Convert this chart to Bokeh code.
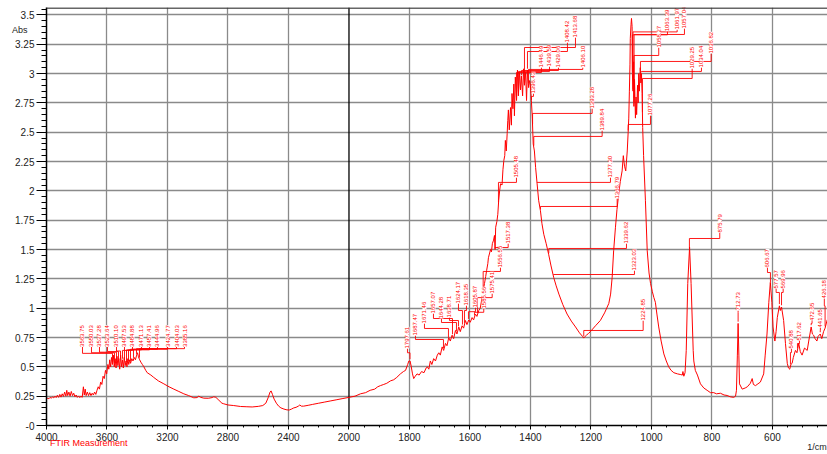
import numpy as np
from bokeh.plotting import figure
from bokeh.models import FixedTicker, Span, LinearAxis
from bokeh.core.properties import value
from bokeh.embed import file_html
from bokeh.resources import INLINE

# ---------------- data ----------------
spec_w = [4000, 3992, 3984, 3976, 3968, 3960, 3952, 3944, 3936, 3928, 3920, 3912, 3904, 3896, 3888, 3880,
          3872, 3866, 3860, 3852, 3844, 3836, 3828, 3820, 3812, 3804, 3796, 3788, 3780, 3772, 3764, 3756,
          3750, 3744, 3738, 3730, 3722, 3714, 3706, 3698, 3690, 3682, 3674, 3666, 3658, 3650, 3642, 3634,
          3626, 3618, 3610, 3602, 3594, 3588, 3582, 3576, 3570, 3564, 3558, 3552, 3546, 3540, 3534, 3528,
          3522, 3516, 3510, 3504, 3498, 3492, 3486, 3480, 3474, 3468, 3462, 3456, 3450, 3444, 3436, 3428,
          3420, 3412, 3404, 3398, 3392, 3384, 3376, 3366, 3356, 3344, 3334, 3310, 3291, 3260, 3224, 3190,
          3158, 3125, 3092, 3060, 3026, 3005, 2993, 2980, 2960, 2930, 2905, 2894, 2880, 2860, 2840, 2828,
          2800, 2762, 2717, 2680, 2640, 2600, 2570, 2550, 2535, 2522, 2515, 2506, 2495, 2480, 2465, 2450,
          2430, 2410, 2395, 2380, 2365, 2350, 2335, 2325, 2315, 2300, 2270, 2240, 2200, 2160, 2120, 2080,
          2040, 2000,
          1980, 1962, 1945, 1930, 1915, 1905, 1896, 1885, 1875, 1863, 1852, 1842, 1830, 1820, 1813, 1806,
          1802, 1798, 1794, 1790, 1786, 1781, 1775, 1768, 1760, 1752, 1745, 1741, 1736, 1731, 1726, 1720,
          1714, 1708, 1703, 1698, 1692, 1687, 1681, 1676, 1670, 1665, 1659, 1654, 1648, 1643, 1637, 1632,
          1626, 1621, 1615, 1610, 1604, 1599, 1593, 1588, 1582, 1577, 1571, 1566, 1560, 1556, 1552, 1548,
          1545, 1541, 1539, 1535, 1532, 1529, 1526, 1522, 1519, 1517, 1515, 1511, 1508, 1505, 1502, 1499,
          1494, 1491, 1488, 1485, 1483, 1480, 1477, 1475, 1473, 1470, 1466, 1463, 1461, 1458, 1455, 1453,
          1450, 1446, 1443, 1440, 1436, 1433, 1430, 1426, 1423, 1420, 1416, 1413, 1410, 1406, 1403, 1400,
          1397, 1394, 1391, 1387, 1383, 1378, 1373, 1367, 1362, 1356, 1348, 1340, 1332, 1323, 1315, 1306,
          1293, 1279, 1265, 1251, 1238, 1228, 1224, 1219, 1215, 1208, 1202, 1185, 1169, 1155, 1141, 1135,
          1130, 1125, 1119, 1114, 1108, 1103, 1097, 1093, 1089, 1085, 1080, 1077, 1075, 1073, 1071, 1070,
          1067.5, 1066, 1064, 1063, 1061, 1059, 1058, 1056, 1053, 1051, 1049, 1046, 1044, 1042, 1040, 1037,
          1035, 1033, 1031, 1029, 1026, 1020, 1014, 1008, 1003, 997, 992, 987, 982, 976, 968, 959,
          951, 943, 935, 926, 914, 905, 898, 896, 893, 889, 885, 880, 874, 869, 862, 860,
          855, 848, 838, 827, 816, 805, 794, 785, 772, 760, 750, 740, 728, 722, 719, 716,
          713.5, 711, 709, 700, 690, 683, 673, 667, 663, 656, 648, 640, 629, 624, 618, 612,
          607, 602, 598, 592, 588, 584, 577, 574, 570, 563, 557, 551, 547, 543, 539, 535,
          531, 524, 519, 513, 508, 502, 494, 485, 480, 472, 468, 464, 459, 453, 449, 442,
          437, 431, 426, 419, 410]
spec_a = [.225, .232, .228, .24, .232, .245, .235, .25, .238, .258, .24, .265, .242, .27, .248, .285,
          .25, .30, .255, .285, .25, .29, .255, .275, .245, .26, .24, .252, .238, .25, .24, .33,
          .26, .31, .255, .285, .255, .28, .255, .275, .26, .285, .265, .30, .33, .31, .37, .35,
          .42, .40, .47, .44, .52, .48, .56, .50, .58, .52, .60, .50, .57, .49, .59, .51,
          .57, .48, .60, .50, .56, .49, .58, .51, .55, .50, .57, .52, .56, .53, .57, .55,
          .58, .56, .60, .62, .585, .56, .54, .52, .50, .47, .45, .43, .41, .38, .355, .33,
          .31, .29, .27, .255, .236, .238, .25, .24, .233, .232, .238, .245, .24, .215, .19, .185,
          .175, .17, .162, .16, .158, .163, .17, .19, .235, .285, .295, .265, .225, .19, .165, .15,
          .14, .133, .132, .14, .15, .155, .165, .175, .165, .165, .172, .18, .19, .20, .21, .22,
          .23, .24,
          .25, .27, .28, .30, .31, .33, .34, .35, .36, .38, .39, .41, .44, .46, .47, .52,
          .55, .55, .50, .44, .40, .42, .44, .43, .46, .45, .49, .50, .48, .55, .52, .57,
          .55, .60, .62, .60, .67, .64, .70, .68, .75, .72, .77, .74, .81, .78, .84, .80,
          .85, .83, .895, .86, .90, .88, .92, .90, .95, .93, .98, 1.0, 1.09, 1.15, 1.21, 1.27,
          1.32, 1.38, 1.43, 1.47, 1.50, 1.48, 1.55, 1.58, 1.62, 1.50, 1.69, 1.74, 1.80, 1.92, 2.0, 2.06,
          2.05, 2.18, 2.26, 2.30, 2.43, 2.34, 2.49, 2.60, 2.69, 2.52, 2.71, 2.56, 2.83, 2.70, 2.91, 2.64,
          2.97, 2.77, 3.03, 2.81, 3.01, 2.86, 2.98, 2.81, 3.04, 2.90, 3.01, 2.77, 3.03, 2.88, 2.94, 2.90,
          2.77, 2.63, 2.40, 2.34, 2.20, 2.06, 1.92, 1.83, 1.72, 1.63, 1.55, 1.46, 1.36, 1.26, 1.19, 1.12,
          1.03, .95, .89, .84, .79, .76, .745, .76, .77, .785, .80, .85, .895, .96, 1.04, 1.12,
          1.26, 1.49, 1.69, 1.84, 1.98, 2.08, 2.17, 2.30, 2.21, 2.17, 2.34, 2.50, 2.62, 2.85, 3.08, 3.30,
          3.42, 3.47, 3.40, 3.00, 2.85, 3.10, 2.72, 2.95, 2.62, 2.80, 2.65, 2.90, 2.75, 3.00, 2.85, 3.05,
          2.92, 3.00, 2.83, 2.54, 2.30, 1.92, 1.49, 1.30, 1.21, 1.14, 1.09, 1.05, .95, .84, .72, .61,
          .55, .50, .47, .45, .44, .435, .43, .46, .42, .45, .64, 1.21, 1.52, 1.21, .64, .55,
          .47, .43, .355, .32, .30, .28, .28, .27, .275, .26, .256, .245, .24, .25, .30, .60,
          .87, .60, .355, .31, .32, .33, .36, .40, .35, .34, .355, .37, .44, .60, .78, 1.05,
          1.22, 1.05, .84, .72, .80, .92, 1.02, .98, 1.01, .895, .70, .53, .49, .48, .52, .53,
          .58, .64, .62, .70, .63, .60, .66, .64, .72, .84, .78, .77, .74, .72, .76, .78,
          .74, .80, .83, .90, .85]

x_tick_w = [4000, 3600, 3200, 2800, 2400, 2000, 1800, 1600, 1400, 1200, 1000, 800, 600]
y_ticks = [0, 0.25, 0.5, 0.75, 1, 1.25, 1.5, 1.75, 2, 2.25, 2.5, 2.75, 3, 3.25, 3.5]

# peak labels: text and wavenumber of the marked peak
peak_text = ["3563.75", "3550.03", "3537.28", "3523.64", "3510.10", "3497.53", "3484.88", "3471.13",
             "3457.41", "3444.96", "3424.77", "3404.03", "3385.16",
             "1797.61", "1687.47", "1671.46", "1657.07", "1644.28", "1638.71", "1624.17", "1618.35",
             "1605.87", "1585.56", "1575.41", "1556.55", "1517.38",
             "1413.68", "1408.42", "1446.49", "1439.59", "1429.06", "1406.10", "1396.43", "1505.48",
             "1393.28", "1389.84", "1377.30", "1366.79", "1339.62", "1323.03", "1224.85",
             "1063.39", "1061.97", "1057.04", "1058.27", "1077.26", "1036.82", "1034.04", "1029.25",
             "875.79", "712.73", "606.67", "577.57", "569.96", "540.88", "517.62", "472.65", "441.65",
             "426.18"]
peak_w = [3563.6, 3550.4, 3537.2, 3523.9, 3510.7, 3497.5, 3484.3, 3471.0, 3457.8, 3444.6, 3424.8, 3404.9, 3385.1,
          1798.3, 1687.6, 1671.1, 1657.8, 1644.6, 1638.0, 1624.8, 1618.2, 1605.0, 1585.1, 1575.2, 1556.4, 1517.0,
          1419.8, 1409.9, 1446.3, 1439.7, 1429.8, 1406.6, 1396.7, 1505.8,
          1393.0, 1389.0, 1377.8, 1366.9, 1339.5, 1323.9, 1223.8,
          1063.0, 1061.0, 1057.5, 1057.8, 1077.0, 1036.4, 1033.1, 1029.8,
          874.5, 713.5, 606.6, 577.0, 570.0, 540.5, 517.3, 472.0, 442.0, 426.0]

# label layout (where each label sits, in chart units)
knee_a = [0.615, 0.62, 0.625, 0.63, 0.635, 0.64, 0.64, 0.645, 0.645, 0.65, 0.65, 0.655, 0.655,
          0.62, 0.733, 0.827, 0.912, 0.878, 0.895, 0.98, 0.98, 0.97, 0.965, 1.09, 1.313, 1.517,
          3.222, 3.188, 3.009, 3.018, 3.026, 3.035, 2.805, 2.072,
          2.66, 2.464, 2.072, 1.867, 1.509, 1.287, 0.81,
          3.33, 3.355, 3.333, 3.154, 2.566, 3.103, 3.018, 2.958,
          1.594, 0.963, 1.304, 1.134, 1.134, 0.622, 0.699, 0.87, 0.81, 1.02]
label_w = [3762.0, 3702.5, 3649.6, 3596.7, 3537.2, 3484.3, 3431.4, 3371.9, 3319.0, 3266.1, 3199.9, 3140.4, 3087.5,
           1806.6, 1780.2, 1750.4, 1720.7, 1694.2, 1667.8, 1638.0, 1611.6, 1581.8, 1554.4, 1526.6, 1499.2, 1473.7,
           1251.2, 1277.7, 1363.6, 1337.1, 1307.4, 1227.1, 1390.1, 1446.3,
           1196.0, 1163.0, 1135.5, 1113.4, 1082.6, 1056.2, 1027.4,
           947.1, 915.0, 890.9, 975.9, 1003.3, 802.6, 834.7, 865.4,
           774.2, 713.5, 616.5, 587.8, 564.6, 537.2, 510.7, 469.0, 441.6, 428.5]
label_a = [0.67] * 13 + [
           0.656, 0.767, 0.87, 0.955, 0.912, 0.921, 1.04, 1.023, 1.006, 0.997, 1.125, 1.347, 1.552,
           3.308, 3.265, 3.052, 3.06, 3.052, 3.052, 2.83, 2.114,
           2.702, 2.515, 2.114, 1.935, 1.552, 1.321, 0.895,
           3.36, 3.375, 3.385, 3.222, 2.643, 3.171, 3.052, 3.043,
           1.645, 0.98, 1.347, 1.168, 1.168, 0.656, 0.725, 0.89, 0.835, 1.083]

caption_y_name = "Abs"
caption_x_name = "1/cm"
caption_source = "FTIR Measurement"


def to_u(w):
    """Wavenumber -> display coordinate (scale doubles below 2000 1/cm)."""
    w = np.asarray(w, dtype=float)
    return np.where(w >= 2000, (4000 - w) / 2.0, 1000 + (2000 - w))


RED = "#ff0000"
FONT = "Liberation Sans"

p = figure(width=827, height=454, output_backend="svg", toolbar_location=None,
           x_range=(0, 2582), y_range=(0, 3.563),
           min_border_left=46, min_border_right=0, min_border_top=7, min_border_bottom=29)
p.outline_line_color = None
p.background_fill_color = "white"
p.border_fill_color = "white"

# axes
tick_u = [int(v) for v in to_u(x_tick_w)]
p.xaxis.ticker = FixedTicker(ticks=tick_u, minor_ticks=list(range(0, 2600, 50)))
p.xaxis.major_label_overrides = {u: str(w) for u, w in zip(tick_u, x_tick_w)}
p.yaxis.ticker = FixedTicker(ticks=y_ticks, minor_ticks=[round(i * 0.05, 2) for i in range(0, 72)])
p.yaxis.major_label_overrides = {0: "-0"}
for ax in (p.xaxis[0], p.yaxis[0]):
    ax.axis_line_color = "black"
    ax.axis_line_width = 1.5
    ax.major_tick_line_color = "black"
    ax.minor_tick_line_color = "black"
    ax.major_tick_in = 0
    ax.minor_tick_in = 0
    ax.major_label_text_font = FONT
    ax.major_label_text_font_size = "10px"
    ax.major_label_text_color = "#222222"
p.yaxis.major_tick_out = 10
p.yaxis.minor_tick_out = 5
p.yaxis.major_label_standoff = 2
p.xaxis.major_tick_out = 4
p.xaxis.minor_tick_out = 2
p.xaxis.major_label_standoff = 3


def caption_axis(ticks, labels, color, standoff):
    return LinearAxis(ticker=FixedTicker(ticks=ticks), major_label_overrides=labels,
                      axis_line_color=None, major_tick_line_color=None, minor_tick_line_color=None,
                      major_tick_out=0, major_tick_in=0, minor_tick_out=0, minor_tick_in=0,
                      major_label_standoff=standoff, major_label_text_font=FONT,
                      major_label_text_font_size="9px", major_label_text_color=color)


# "Abs" caption at the top of the absorbance axis (outer left axis, pulled inward)
p.add_layout(caption_axis([3.375], {3.375: caption_y_name}, "#222222", -15), "left")
# "FTIR Measurement" and "1/cm" captions under the wavenumber axis
p.add_layout(caption_axis([140], {140: caption_source}, RED, -6), "below")
p.add_layout(caption_axis([2552], {2552: caption_x_name}, "#222222", -9), "below")

# grid
p.xgrid.ticker = FixedTicker(ticks=[u for u in tick_u if u not in (0, 1000)])
p.ygrid.ticker = FixedTicker(ticks=y_ticks[1:])
for g in (p.xgrid[0], p.ygrid[0]):
    g.grid_line_color = "#8a8a8a"
    g.grid_line_width = 1.3
p.add_layout(Span(location=1000, dimension="height", line_color="black", line_width=1.3, level="underlay"))
p.add_layout(Span(location=3.558, dimension="width", line_color="#333333", line_width=1.5))

# spectrum
su = to_u(spec_w)
p.line(su, spec_a, line_color=RED, line_width=1)

# peak labels with leaders
anchor_a = np.interp(np.asarray(peak_w)[::-1], np.asarray(spec_w)[::-1], np.asarray(spec_a)[::-1])[::-1] + 0.015
pu = to_u(peak_w)
lu = to_u(label_w)
xs = [[a, a, b, b] for a, b in zip(pu, lu)]
ys = [[aa, k, k, la] for aa, k, la in zip(anchor_a, knee_a, label_a)]
p.multi_line(xs, ys, line_color=RED, line_width=0.9)
p.text(x=lu, y=label_a, text=peak_text, angle=np.pi / 2, text_align="left", text_baseline="middle",
       text_font=value(FONT), text_font_size="6px", text_color=RED, background_fill_color="white")

open("out.html", "w").write(file_html(p, INLINE))
